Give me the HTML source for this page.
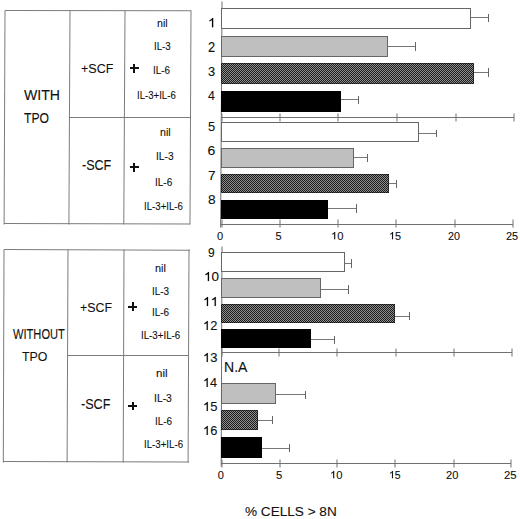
<!DOCTYPE html>
<html><head><meta charset="utf-8"><style>
html,body{margin:0;padding:0;background:#fff;}
body{width:520px;height:519px;position:relative;overflow:hidden;font-family:"Liberation Sans",sans-serif;color:#111;}
div,span{position:absolute;}
span{line-height:1;white-space:pre;transform-origin:0 0;}
span.t{-webkit-text-stroke:0.1px #000;} svg.one{display:inline-block;width:0.556em;height:0.688em;vertical-align:baseline;overflow:visible;} svg.one path{fill:#000;stroke:#000;stroke-width:20px;}
</style></head><body>
<div style="left:4.90px;top:10.40px;width:186.40px;height:1.0px;background:#7c7c7c;transform-origin:0 50%;transform:rotate(0.0618deg)"></div>
<div style="left:4.00px;top:223.00px;width:186.30px;height:1.0px;background:#7c7c7c;transform-origin:0 50%;transform:rotate(0.1237deg)"></div>
<div style="left:5.40px;top:9.90px;width:213.60px;height:1.0px;background:#7c7c7c;transform-origin:0 50%;transform:rotate(90.2425deg)"></div>
<div style="left:190.80px;top:10.10px;width:213.80px;height:1.0px;background:#7c7c7c;transform-origin:0 50%;transform:rotate(90.2692deg)"></div>
<div style="left:69.60px;top:10.00px;width:213.60px;height:1.0px;background:#7c7c7c;transform-origin:0 50%;transform:rotate(90.2964deg)"></div>
<div style="left:125.10px;top:10.00px;width:213.70px;height:1.0px;background:#7c7c7c;transform-origin:0 50%;transform:rotate(90.3232deg)"></div>
<div style="left:68.70px;top:116.90px;width:122.20px;height:1.0px;background:#7c7c7c;transform-origin:0 50%;transform:rotate(0.0473deg)"></div>
<div style="left:3.70px;top:249.10px;width:186.20px;height:1.0px;background:#7c7c7c;transform-origin:0 50%;transform:rotate(0.2166deg)"></div>
<div style="left:3.00px;top:461.30px;width:186.00px;height:1.0px;background:#7c7c7c;transform-origin:0 50%;transform:rotate(0.1858deg)"></div>
<div style="left:4.20px;top:248.60px;width:213.20px;height:1.0px;background:#7c7c7c;transform-origin:0 50%;transform:rotate(90.1890deg)"></div>
<div style="left:189.40px;top:249.30px;width:213.10px;height:1.0px;background:#7c7c7c;transform-origin:0 50%;transform:rotate(90.2431deg)"></div>
<div style="left:68.30px;top:249.00px;width:213.10px;height:1.0px;background:#7c7c7c;transform-origin:0 50%;transform:rotate(90.2431deg)"></div>
<div style="left:123.50px;top:249.10px;width:213.20px;height:1.0px;background:#7c7c7c;transform-origin:0 50%;transform:rotate(90.2160deg)"></div>
<div style="left:67.30px;top:354.90px;width:122.20px;height:1.0px;background:#7c7c7c;transform-origin:0 50%;transform:rotate(0.0473deg)"></div>
<div style="left:221.90px;top:1.30px;width:226.30px;height:1.0px;background:#707070;transform-origin:0 50%;transform:rotate(90.3560deg)"></div>
<div style="left:221.00px;top:116.90px;width:292.90px;height:1.0px;background:#707070;transform-origin:0 50%;transform:rotate(0.0000deg)"></div>
<div style="left:221.50px;top:112.90px;width:8.00px;height:1.0px;background:#707070;transform-origin:0 50%;transform:rotate(90.0000deg)"></div>
<div style="left:279.50px;top:112.90px;width:8.00px;height:1.0px;background:#707070;transform-origin:0 50%;transform:rotate(90.0000deg)"></div>
<div style="left:337.50px;top:112.90px;width:8.00px;height:1.0px;background:#707070;transform-origin:0 50%;transform:rotate(90.0000deg)"></div>
<div style="left:396.50px;top:112.90px;width:8.00px;height:1.0px;background:#707070;transform-origin:0 50%;transform:rotate(90.0000deg)"></div>
<div style="left:455.50px;top:112.90px;width:8.00px;height:1.0px;background:#707070;transform-origin:0 50%;transform:rotate(90.0000deg)"></div>
<div style="left:513.50px;top:112.90px;width:8.00px;height:1.0px;background:#707070;transform-origin:0 50%;transform:rotate(90.0000deg)"></div>
<div style="left:220.10px;top:223.70px;width:293.00px;height:1.0px;background:#707070;transform-origin:0 50%;transform:rotate(0.0000deg)"></div>
<div style="left:221.50px;top:219.40px;width:8.20px;height:1.0px;background:#707070;transform-origin:0 50%;transform:rotate(90.0000deg)"></div>
<div style="left:279.50px;top:219.40px;width:8.20px;height:1.0px;background:#707070;transform-origin:0 50%;transform:rotate(90.0000deg)"></div>
<div style="left:337.50px;top:219.40px;width:8.20px;height:1.0px;background:#707070;transform-origin:0 50%;transform:rotate(90.0000deg)"></div>
<div style="left:395.50px;top:219.40px;width:8.20px;height:1.0px;background:#707070;transform-origin:0 50%;transform:rotate(90.0000deg)"></div>
<div style="left:454.50px;top:219.40px;width:8.20px;height:1.0px;background:#707070;transform-origin:0 50%;transform:rotate(90.0000deg)"></div>
<div style="left:512.50px;top:219.40px;width:8.20px;height:1.0px;background:#707070;transform-origin:0 50%;transform:rotate(90.0000deg)"></div>
<div style="left:221.80px;top:246.10px;width:220.30px;height:1.0px;background:#707070;transform-origin:0 50%;transform:rotate(90.2090deg)"></div>
<div style="left:220.70px;top:352.20px;width:291.40px;height:1.0px;background:#707070;transform-origin:0 50%;transform:rotate(0.0000deg)"></div>
<div style="left:221.50px;top:348.20px;width:8.00px;height:1.0px;background:#707070;transform-origin:0 50%;transform:rotate(90.0000deg)"></div>
<div style="left:278.50px;top:348.20px;width:8.00px;height:1.0px;background:#707070;transform-origin:0 50%;transform:rotate(90.0000deg)"></div>
<div style="left:336.50px;top:348.20px;width:8.00px;height:1.0px;background:#707070;transform-origin:0 50%;transform:rotate(90.0000deg)"></div>
<div style="left:395.50px;top:348.20px;width:8.00px;height:1.0px;background:#707070;transform-origin:0 50%;transform:rotate(90.0000deg)"></div>
<div style="left:453.50px;top:348.20px;width:8.00px;height:1.0px;background:#707070;transform-origin:0 50%;transform:rotate(90.0000deg)"></div>
<div style="left:511.50px;top:348.20px;width:8.00px;height:1.0px;background:#707070;transform-origin:0 50%;transform:rotate(90.0000deg)"></div>
<div style="left:220.50px;top:462.70px;width:290.80px;height:1.0px;background:#707070;transform-origin:0 50%;transform:rotate(0.0000deg)"></div>
<div style="left:221.50px;top:458.90px;width:7.80px;height:1.0px;background:#707070;transform-origin:0 50%;transform:rotate(90.0000deg)"></div>
<div style="left:279.50px;top:458.90px;width:7.80px;height:1.0px;background:#707070;transform-origin:0 50%;transform:rotate(90.0000deg)"></div>
<div style="left:336.50px;top:458.90px;width:7.80px;height:1.0px;background:#707070;transform-origin:0 50%;transform:rotate(90.0000deg)"></div>
<div style="left:394.50px;top:458.90px;width:7.80px;height:1.0px;background:#707070;transform-origin:0 50%;transform:rotate(90.0000deg)"></div>
<div style="left:453.50px;top:458.90px;width:7.80px;height:1.0px;background:#707070;transform-origin:0 50%;transform:rotate(90.0000deg)"></div>
<div style="left:510.50px;top:458.90px;width:7.80px;height:1.0px;background:#707070;transform-origin:0 50%;transform:rotate(90.0000deg)"></div>
<div style="left:221px;top:8px;width:250px;height:21px;background:#fff;box-sizing:border-box;border:1px solid #666"></div>
<div style="left:471px;top:17px;width:18px;height:1px;background:#777;"></div>
<div style="left:488px;top:14px;width:1px;height:8px;background:#666;"></div>
<div style="left:221px;top:36px;width:167px;height:21px;background:#bfbfbf;box-sizing:border-box;border:1px solid #666"></div>
<div style="left:388px;top:46px;width:28px;height:1px;background:#777;"></div>
<div style="left:415px;top:42px;width:1px;height:9px;background:#666;"></div>
<div style="left:221px;top:63px;width:253px;height:21px;background:repeating-conic-gradient(#1c1c1c 0 25%, #8e8e8e 0 50%) 0 0/2px 2px;box-shadow:inset 0 0 0 1px rgba(0,0,0,0.5)"></div>
<div style="left:474px;top:72px;width:15px;height:1px;background:#777;"></div>
<div style="left:488px;top:68px;width:1px;height:9px;background:#666;"></div>
<div style="left:221px;top:91px;width:120px;height:21px;background:#000;box-sizing:border-box;border:1px solid #000"></div>
<div style="left:341px;top:99px;width:18px;height:1px;background:#777;"></div>
<div style="left:358px;top:96px;width:1px;height:8px;background:#666;"></div>
<div style="left:221px;top:122px;width:198px;height:20px;background:#fff;box-sizing:border-box;border:1px solid #666"></div>
<div style="left:419px;top:133px;width:18px;height:1px;background:#777;"></div>
<div style="left:436px;top:130px;width:1px;height:7px;background:#666;"></div>
<div style="left:221px;top:148px;width:133px;height:20px;background:#bfbfbf;box-sizing:border-box;border:1px solid #666"></div>
<div style="left:354px;top:157px;width:14px;height:1px;background:#777;"></div>
<div style="left:367px;top:154px;width:1px;height:8px;background:#666;"></div>
<div style="left:221px;top:174px;width:168px;height:19px;background:repeating-conic-gradient(#1c1c1c 0 25%, #8e8e8e 0 50%) 0 0/2px 2px;box-shadow:inset 0 0 0 1px rgba(0,0,0,0.5)"></div>
<div style="left:389px;top:183px;width:8px;height:1px;background:#777;"></div>
<div style="left:396px;top:180px;width:1px;height:8px;background:#666;"></div>
<div style="left:221px;top:200px;width:107px;height:19px;background:#000;box-sizing:border-box;border:1px solid #000"></div>
<div style="left:328px;top:208px;width:29px;height:1px;background:#777;"></div>
<div style="left:356px;top:204px;width:1px;height:9px;background:#666;"></div>
<div style="left:221px;top:252px;width:124px;height:20px;background:#fff;box-sizing:border-box;border:1px solid #666"></div>
<div style="left:345px;top:263px;width:7px;height:1px;background:#777;"></div>
<div style="left:351px;top:259px;width:1px;height:9px;background:#666;"></div>
<div style="left:221px;top:278px;width:100px;height:20px;background:#bfbfbf;box-sizing:border-box;border:1px solid #666"></div>
<div style="left:321px;top:289px;width:28px;height:1px;background:#777;"></div>
<div style="left:348px;top:285px;width:1px;height:9px;background:#666;"></div>
<div style="left:221px;top:304px;width:174px;height:19px;background:repeating-conic-gradient(#1c1c1c 0 25%, #8e8e8e 0 50%) 0 0/2px 2px;box-shadow:inset 0 0 0 1px rgba(0,0,0,0.5)"></div>
<div style="left:395px;top:316px;width:15px;height:1px;background:#777;"></div>
<div style="left:409px;top:312px;width:1px;height:8px;background:#666;"></div>
<div style="left:221px;top:329px;width:90px;height:19px;background:#000;box-sizing:border-box;border:1px solid #000"></div>
<div style="left:311px;top:339px;width:24px;height:1px;background:#777;"></div>
<div style="left:334px;top:336px;width:1px;height:8px;background:#666;"></div>
<div style="left:221px;top:383px;width:55px;height:21px;background:#bfbfbf;box-sizing:border-box;border:1px solid #666"></div>
<div style="left:276px;top:394px;width:30px;height:1px;background:#777;"></div>
<div style="left:305px;top:391px;width:1px;height:8px;background:#666;"></div>
<div style="left:221px;top:410px;width:37px;height:20px;background:repeating-conic-gradient(#1c1c1c 0 25%, #8e8e8e 0 50%) 0 0/2px 2px;box-shadow:inset 0 0 0 1px rgba(0,0,0,0.5)"></div>
<div style="left:258px;top:420px;width:15px;height:1px;background:#777;"></div>
<div style="left:272px;top:416px;width:1px;height:8px;background:#666;"></div>
<div style="left:221px;top:437px;width:41px;height:21px;background:#000;box-sizing:border-box;border:1px solid #000"></div>
<div style="left:262px;top:448px;width:28px;height:1px;background:#777;"></div>
<div style="left:289px;top:444px;width:1px;height:8px;background:#666;"></div>
<span class="t" style="left:23.50px;top:88.34px;font-size:14px;font-weight:400;transform:scale(1.0072,1.0051)">WITH</span>
<span class="t" style="left:24.18px;top:111.25px;font-size:14px;font-weight:400;transform:scale(0.8696,1.0000)">TPO</span>
<span class="t" style="left:81.45px;top:60.94px;font-size:14px;font-weight:400;transform:scale(0.8965,0.9600)">+SCF</span>
<span class="t" style="left:82.45px;top:158.39px;font-size:14px;font-weight:400;transform:scale(0.8945,0.9800)">-SCF</span>
<span class="t" style="left:157.07px;top:18.30px;font-size:11px;font-weight:400;transform:scale(0.9684,0.9625)">nil</span>
<span class="t" style="left:153.62px;top:41.16px;font-size:11px;font-weight:400;transform:scale(0.8800,0.9625)">IL-3</span>
<span class="t" style="left:153.40px;top:64.85px;font-size:11px;font-weight:400;transform:scale(0.8971,1.0000)">IL-6</span>
<span class="t" style="left:137.43px;top:90.14px;font-size:11px;font-weight:400;transform:scale(0.8744,1.0375)">IL-3+IL-6</span>
<span class="t" style="left:159.88px;top:126.60px;font-size:11px;font-weight:400;transform:scale(0.9632,0.9688)">nil</span>
<span class="t" style="left:155.97px;top:151.11px;font-size:11px;font-weight:400;transform:scale(0.9257,0.9688)">IL-3</span>
<span class="t" style="left:155.09px;top:176.95px;font-size:11px;font-weight:400;transform:scale(0.9086,1.0188)">IL-6</span>
<span class="t" style="left:144.12px;top:201.35px;font-size:11px;font-weight:400;transform:scale(0.8779,1.0125)">IL-3+IL-6</span>
<span class="t" style="left:13.10px;top:326.77px;font-size:14px;font-weight:400;transform:scale(0.7938,0.9900)">WITHOUT</span>
<span class="t" style="left:21.58px;top:350.36px;font-size:14px;font-weight:400;transform:scale(0.8821,0.9500)">TPO</span>
<span class="t" style="left:80.16px;top:300.14px;font-size:14px;font-weight:400;transform:scale(0.8851,0.9600)">+SCF</span>
<span class="t" style="left:81.15px;top:397.05px;font-size:14px;font-weight:400;transform:scale(0.9008,1.0000)">-SCF</span>
<span class="t" style="left:155.16px;top:262.50px;font-size:11px;font-weight:400;transform:scale(0.9895,0.9500)">nil</span>
<span class="t" style="left:152.00px;top:286.25px;font-size:11px;font-weight:400;transform:scale(0.9029,1.0000)">IL-3</span>
<span class="t" style="left:152.40px;top:307.34px;font-size:11px;font-weight:400;transform:scale(0.9029,1.0500)">IL-6</span>
<span class="t" style="left:140.82px;top:329.94px;font-size:11px;font-weight:400;transform:scale(0.8837,1.0500)">IL-3+IL-6</span>
<span class="t" style="left:156.01px;top:368.20px;font-size:11px;font-weight:400;transform:scale(1.0526,0.9500)">nil</span>
<span class="t" style="left:154.26px;top:392.55px;font-size:11px;font-weight:400;transform:scale(0.9429,0.9875)">IL-3</span>
<span class="t" style="left:155.00px;top:416.26px;font-size:11px;font-weight:400;transform:scale(0.9029,0.9625)">IL-6</span>
<span class="t" style="left:143.72px;top:438.85px;font-size:11px;font-weight:400;transform:scale(0.8814,1.0000)">IL-3+IL-6</span>
<span class="t" style="left:208.19px;top:15.85px;font-size:14px;font-weight:400;transform:scale(1.0000,0.9744)"><svg class="one" viewBox="0 0 1139 1409"><path transform="matrix(1 0 0 -1 0 1409)" d="M763 0H583V1098Q518 1038 412 979Q306 920 222 890V1057Q373 1124 486 1221Q599 1318 646 1409H763Z"/></svg></span>
<span class="t" style="left:208.34px;top:39.64px;font-size:14px;font-weight:400;transform:scale(0.9185,1.0051)">2</span>
<span class="t" style="left:208.34px;top:64.04px;font-size:14px;font-weight:400;transform:scale(0.9185,0.9600)">3</span>
<span class="t" style="left:208.38px;top:88.63px;font-size:14px;font-weight:400;transform:scale(0.8828,0.9500)">4</span>
<span class="t" style="left:208.34px;top:119.76px;font-size:14px;font-weight:400;transform:scale(0.9185,0.9500)">5</span>
<span class="t" style="left:207.44px;top:143.91px;font-size:14px;font-weight:400;transform:scale(1.0000,0.9500)">6</span>
<span class="t" style="left:207.57px;top:168.03px;font-size:14px;font-weight:400;transform:scale(0.9692,0.9641)">7</span>
<span class="t" style="left:207.51px;top:192.61px;font-size:14px;font-weight:400;transform:scale(0.9778,0.9500)">8</span>
<span class="t" style="left:207.57px;top:246.01px;font-size:14px;font-weight:400;transform:scale(0.8593,0.9500)">9</span>
<span class="t" style="left:203.66px;top:270.33px;font-size:14px;font-weight:400;transform:scale(0.9630,0.9500)"><svg class="one" viewBox="0 0 1139 1409"><path transform="matrix(1 0 0 -1 0 1409)" d="M763 0H583V1098Q518 1038 412 979Q306 920 222 890V1057Q373 1124 486 1221Q599 1318 646 1409H763Z"/></svg>0</span>
<span class="t" style="left:203.14px;top:294.52px;font-size:14px;font-weight:400;transform:scale(0.9702,0.9500)"><svg class="one" viewBox="0 0 1139 1409"><path transform="matrix(1 0 0 -1 0 1409)" d="M763 0H583V1098Q518 1038 412 979Q306 920 222 890V1057Q373 1124 486 1221Q599 1318 646 1409H763Z"/></svg><svg class="one" viewBox="0 0 1139 1409"><path transform="matrix(1 0 0 -1 0 1409)" d="M763 0H583V1098Q518 1038 412 979Q306 920 222 890V1057Q373 1124 486 1221Q599 1318 646 1409H763Z"/></svg></span>
<span class="t" style="left:202.92px;top:318.80px;font-size:14px;font-weight:400;transform:scale(0.9185,0.9500)"><svg class="one" viewBox="0 0 1139 1409"><path transform="matrix(1 0 0 -1 0 1409)" d="M763 0H583V1098Q518 1038 412 979Q306 920 222 890V1057Q373 1124 486 1221Q599 1318 646 1409H763Z"/></svg>2</span>
<span class="t" style="left:202.81px;top:351.33px;font-size:14px;font-weight:400;transform:scale(0.9259,0.9500)"><svg class="one" viewBox="0 0 1139 1409"><path transform="matrix(1 0 0 -1 0 1409)" d="M763 0H583V1098Q518 1038 412 979Q306 920 222 890V1057Q373 1124 486 1221Q599 1318 646 1409H763Z"/></svg>3</span>
<span class="t" style="left:202.84px;top:376.25px;font-size:14px;font-weight:400;transform:scale(0.9091,0.9500)"><svg class="one" viewBox="0 0 1139 1409"><path transform="matrix(1 0 0 -1 0 1409)" d="M763 0H583V1098Q518 1038 412 979Q306 920 222 890V1057Q373 1124 486 1221Q599 1318 646 1409H763Z"/></svg>4</span>
<span class="t" style="left:202.81px;top:400.33px;font-size:14px;font-weight:400;transform:scale(0.9259,0.9500)"><svg class="one" viewBox="0 0 1139 1409"><path transform="matrix(1 0 0 -1 0 1409)" d="M763 0H583V1098Q518 1038 412 979Q306 920 222 890V1057Q373 1124 486 1221Q599 1318 646 1409H763Z"/></svg>5</span>
<span class="t" style="left:202.92px;top:424.23px;font-size:14px;font-weight:400;transform:scale(0.9185,0.9500)"><svg class="one" viewBox="0 0 1139 1409"><path transform="matrix(1 0 0 -1 0 1409)" d="M763 0H583V1098Q518 1038 412 979Q306 920 222 890V1057Q373 1124 486 1221Q599 1318 646 1409H763Z"/></svg>6</span>
<span class="t" style="left:224.40px;top:359.97px;font-size:14px;font-weight:400;transform:scale(1.0022,1.0359)">N.A</span>
<span class="t" style="left:217.20px;top:231.16px;font-size:11px;font-weight:400;transform:scale(1.0095,0.9500)">0</span>
<span class="t" style="left:275.48px;top:231.16px;font-size:11px;font-weight:400;transform:scale(1.0000,0.9500)">5</span>
<span class="t" style="left:330.52px;top:231.28px;font-size:11px;font-weight:400;transform:scale(1.0233,0.9500)"><svg class="one" viewBox="0 0 1139 1409"><path transform="matrix(1 0 0 -1 0 1409)" d="M763 0H583V1098Q518 1038 412 979Q306 920 222 890V1057Q373 1124 486 1221Q599 1318 646 1409H763Z"/></svg>0</span>
<span class="t" style="left:389.36px;top:231.28px;font-size:11px;font-weight:400;transform:scale(0.9905,0.9500)"><svg class="one" viewBox="0 0 1139 1409"><path transform="matrix(1 0 0 -1 0 1409)" d="M763 0H583V1098Q518 1038 412 979Q306 920 222 890V1057Q373 1124 486 1221Q599 1318 646 1409H763Z"/></svg>5</span>
<span class="t" style="left:448.01px;top:231.16px;font-size:11px;font-weight:400;transform:scale(0.9739,0.9500)">20</span>
<span class="t" style="left:506.00px;top:231.16px;font-size:11px;font-weight:400;transform:scale(0.9956,0.9500)">25</span>
<span class="t" style="left:217.80px;top:470.16px;font-size:11px;font-weight:400;transform:scale(1.0000,0.9625)">0</span>
<span class="t" style="left:275.79px;top:470.16px;font-size:11px;font-weight:400;transform:scale(1.0286,0.9625)">5</span>
<span class="t" style="left:330.42px;top:470.33px;font-size:11px;font-weight:400;transform:scale(1.0233,0.9500)"><svg class="one" viewBox="0 0 1139 1409"><path transform="matrix(1 0 0 -1 0 1409)" d="M763 0H583V1098Q518 1038 412 979Q306 920 222 890V1057Q373 1124 486 1221Q599 1318 646 1409H763Z"/></svg>0</span>
<span class="t" style="left:389.01px;top:470.33px;font-size:11px;font-weight:400;transform:scale(0.9524,0.9500)"><svg class="one" viewBox="0 0 1139 1409"><path transform="matrix(1 0 0 -1 0 1409)" d="M763 0H583V1098Q518 1038 412 979Q306 920 222 890V1057Q373 1124 486 1221Q599 1318 646 1409H763Z"/></svg>5</span>
<span class="t" style="left:446.40px;top:470.16px;font-size:11px;font-weight:400;transform:scale(1.0087,0.9625)">20</span>
<span class="t" style="left:504.08px;top:470.16px;font-size:11px;font-weight:400;transform:scale(1.0311,0.9625)">25</span>
<span class="t" style="left:244.92px;top:504.24px;font-size:14px;font-weight:400;transform:scale(0.9699,0.9600)">% CELLS &gt; 8N</span>
<div style="left:130px;top:67px;width:9px;height:2px;background:#111;"></div>
<div style="left:133px;top:64px;width:2px;height:9px;background:#111;"></div>
<div style="left:130px;top:166px;width:9px;height:2px;background:#111;"></div>
<div style="left:133px;top:163px;width:2px;height:9px;background:#111;"></div>
<div style="left:128px;top:306px;width:9px;height:2px;background:#111;"></div>
<div style="left:132px;top:302px;width:2px;height:9px;background:#111;"></div>
<div style="left:128px;top:405px;width:9px;height:2px;background:#111;"></div>
<div style="left:132px;top:402px;width:2px;height:8px;background:#111;"></div>
</body></html>
